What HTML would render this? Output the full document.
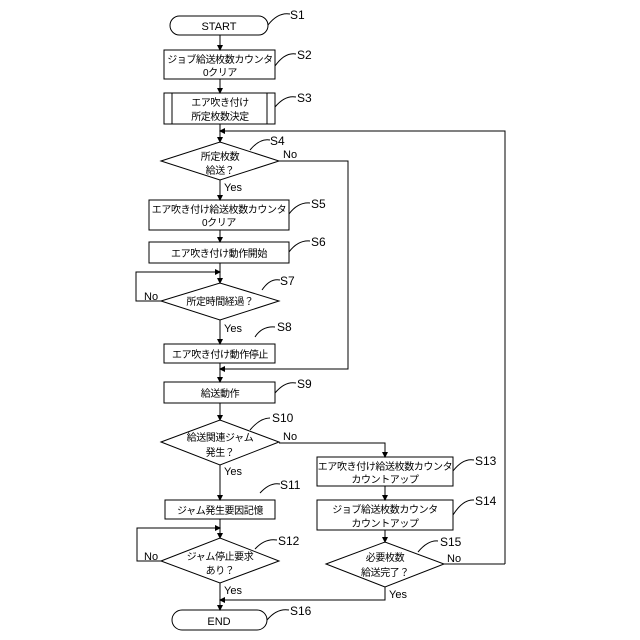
<!DOCTYPE html>
<html><head><meta charset="utf-8"><style>body{margin:0;background:#fff}svg{display:block}</style></head><body>
<svg width="640" height="640" viewBox="0 0 640 640" xmlns="http://www.w3.org/2000/svg" font-family="'Liberation Sans','Noto Sans CJK JP',sans-serif" font-size="11" fill="#000">
<defs><marker id="a" markerWidth="6" markerHeight="6" refX="5" refY="3" orient="auto" markerUnits="userSpaceOnUse"><path d="M0,0 L6,3 L0,6 z" fill="#000"/></marker></defs>
<g fill="none" stroke="#000" stroke-width="1">
<rect x="170" y="16" width="98" height="19" rx="9.5"/>
<rect x="164" y="50" width="111" height="29"/>
<rect x="164" y="93" width="111" height="31"/>
<line x1="172" y1="93" x2="172" y2="124"/><line x1="267" y1="93" x2="267" y2="124"/>
<polygon points="161,161 220,142 279,161 220,180"/>
<rect x="149" y="200" width="140" height="30"/>
<rect x="149" y="242" width="140" height="21"/>
<polygon points="161,301 220,283 279,301 220,320"/>
<rect x="164" y="344" width="111" height="19"/>
<rect x="164" y="382" width="111" height="21"/>
<polygon points="161,442 220,420 279,442 220,465"/>
<rect x="165" y="500" width="110" height="19"/>
<polygon points="161,561 220,538 279,561 220,583"/>
<rect x="172" y="610" width="95" height="20" rx="10"/>
<rect x="317" y="457" width="136" height="29"/>
<rect x="317" y="500" width="136" height="30"/>
<polygon points="326,564 385,542 444,564 385,587"/>
<line x1="220" y1="35" x2="220" y2="50" marker-end="url(#a)"/>
<line x1="220" y1="79" x2="220" y2="93" marker-end="url(#a)"/>
<line x1="220" y1="124" x2="220" y2="142" marker-end="url(#a)"/>
<line x1="220" y1="180" x2="220" y2="200" marker-end="url(#a)"/>
<line x1="220" y1="230" x2="220" y2="242" marker-end="url(#a)"/>
<line x1="220" y1="263" x2="220" y2="283" marker-end="url(#a)"/>
<line x1="220" y1="320" x2="220" y2="344" marker-end="url(#a)"/>
<line x1="220" y1="363" x2="220" y2="382" marker-end="url(#a)"/>
<line x1="220" y1="403" x2="220" y2="420" marker-end="url(#a)"/>
<line x1="220" y1="465" x2="220" y2="500" marker-end="url(#a)"/>
<line x1="220" y1="519" x2="220" y2="538" marker-end="url(#a)"/>
<line x1="220" y1="583" x2="220" y2="610" marker-end="url(#a)"/>
<polyline points="505,564 505,131 220,131" marker-end="url(#a)"/>
<polyline points="444,564 505,564"/>
<polyline points="279,161 348,161 348,369 220,369" marker-end="url(#a)"/>
<polyline points="161,301 136,301 136,272 220,272" marker-end="url(#a)"/>
<polyline points="161,561 137,561 137,528 220,528" marker-end="url(#a)"/>
<polyline points="279,443 385,443 385,457" marker-end="url(#a)"/>
<line x1="385" y1="486" x2="385" y2="500" marker-end="url(#a)"/>
<line x1="385" y1="530" x2="385" y2="542" marker-end="url(#a)"/>
<polyline points="385,587 385,600 220,600" marker-end="url(#a)"/>
<path d="M268,25 Q278,12 290,14"/>
<path d="M275,66 Q285,52 296,54"/>
<path d="M275,107 Q285,95 296,97"/>
<path d="M250,150 Q260,138 270,140"/>
<path d="M289,214 Q298,202 310,203"/>
<path d="M289,252 Q298,240 310,241"/>
<path d="M262,290 Q270,278 280,280"/>
<path d="M255,337 Q262,326 275,327"/>
<path d="M275,393 Q285,381 296,383"/>
<path d="M250,430 Q260,418 270,418"/>
<path d="M260,493 Q270,482 280,484"/>
<path d="M255,549 Q265,538 277,540"/>
<path d="M453,471 Q463,458 474,460"/>
<path d="M453,515 Q463,499 474,500"/>
<path d="M418,552 Q428,540 438,541"/>
<path d="M267,620 Q277,608 289,610"/>
</g>
<g text-anchor="middle" font-size="10" letter-spacing="-0.4">
<text x="219" y="30" font-size="11" letter-spacing="0">START</text>
<text x="220" y="63">ジョブ給送枚数カウンタ</text><text x="220" y="76">0クリア</text>
<text x="220" y="106">エア吹き付け</text><text x="220" y="120">所定枚数決定</text>
<text x="220" y="160">所定枚数</text><text x="220" y="174">給送？</text>
<text x="219" y="213">エア吹き付け給送枚数カウンタ</text><text x="219" y="226">0クリア</text>
<text x="219" y="257">エア吹き付け動作開始</text>
<text x="220" y="305">所定時間経過？</text>
<text x="220" y="358">エア吹き付け動作停止</text>
<text x="220" y="397">給送動作</text>
<text x="220" y="441">給送関連ジャム</text><text x="220" y="456">発生？</text>
<text x="220" y="514">ジャム発生要因記憶</text>
<text x="220" y="560">ジャム停止要求</text><text x="220" y="574">あり？</text>
<text x="219" y="625" font-size="11" letter-spacing="0">END</text>
<text x="385" y="470">エア吹き付け給送枚数カウンタ</text><text x="385" y="483">カウントアップ</text>
<text x="385" y="513">ジョブ給送枚数カウンタ</text><text x="385" y="527">カウントアップ</text>
<text x="385" y="561">必要枚数</text><text x="385" y="576">給送完了？</text>
</g>
<g font-size="12">
<text x="290" y="19">S1</text><text x="297" y="59">S2</text><text x="297" y="102">S3</text>
<text x="270" y="145">S4</text><text x="283" y="158" font-size="11">No</text><text x="224" y="191" font-size="11">Yes</text>
<text x="311" y="208">S5</text><text x="311" y="246">S6</text>
<text x="280" y="285">S7</text><text x="144" y="300" font-size="11">No</text><text x="224" y="332" font-size="11">Yes</text>
<text x="277" y="331">S8</text><text x="297" y="388">S9</text>
<text x="272" y="422">S10</text><text x="283" y="440" font-size="11">No</text><text x="224" y="475" font-size="11">Yes</text>
<text x="280" y="489">S11</text><text x="278" y="545">S12</text><text x="144" y="560" font-size="11">No</text><text x="224" y="594" font-size="11">Yes</text>
<text x="290" y="615">S16</text>
<text x="475" y="465">S13</text><text x="475" y="505">S14</text><text x="440" y="546">S15</text>
<text x="447" y="562" font-size="11">No</text><text x="389" y="598" font-size="11">Yes</text>
</g>
</svg>
</body></html>
